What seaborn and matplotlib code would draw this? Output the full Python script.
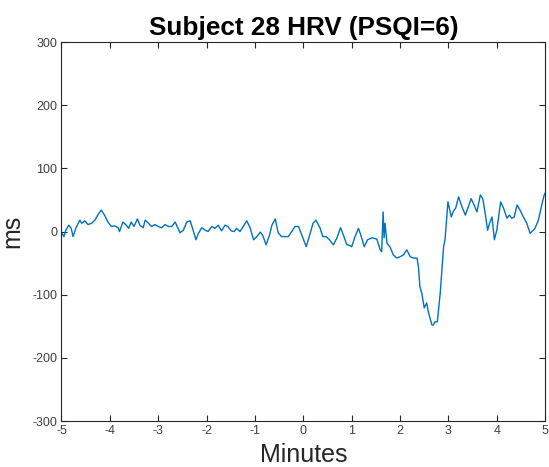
import pandas as pd
import matplotlib
matplotlib.use("Agg")
import matplotlib.pyplot as plt
import seaborn as sns

# HRV trace (minutes, ms)
minutes = [
    -5.00, -4.95, -4.91, -4.85, -4.80, -4.76, -4.70, -4.62, -4.58, -4.52,
    -4.45, -4.38, -4.31, -4.25, -4.18, -4.11, -4.04, -3.97, -3.90, -3.83,
    -3.80, -3.73, -3.66, -3.61, -3.56, -3.50, -3.43, -3.38, -3.31, -3.27,
    -3.20, -3.14, -3.07, -3.00, -2.93, -2.86, -2.79, -2.72, -2.65, -2.62,
    -2.55, -2.48, -2.41, -2.34, -2.29, -2.22, -2.17, -2.10, -2.03, -1.97,
    -1.89, -1.83, -1.76, -1.69, -1.62, -1.56, -1.49, -1.43, -1.38, -1.31,
    -1.24, -1.17, -1.10, -1.03, -0.96, -0.89, -0.84, -0.77, -0.70, -0.65,
    -0.58, -0.52, -0.45, -0.38, -0.31, -0.24, -0.17, -0.10, -0.03, 0.06,
    0.13, 0.20, 0.26, 0.35, 0.40, 0.47, 0.54, 0.62, 0.69, 0.77,
    0.83, 0.90, 0.93, 1.00, 1.07, 1.14, 1.19, 1.26, 1.33, 1.42,
    1.52, 1.59, 1.62, 1.65, 1.67, 1.69, 1.73, 1.79, 1.86, 1.93,
    2.00, 2.07, 2.14, 2.21, 2.28, 2.35, 2.38, 2.41, 2.45, 2.50,
    2.55, 2.59, 2.66, 2.69, 2.72, 2.77, 2.83, 2.90, 2.93, 2.99,
    3.06, 3.10, 3.15, 3.21, 3.28, 3.35, 3.41, 3.47, 3.53, 3.59,
    3.66, 3.71, 3.76, 3.81, 3.85, 3.90, 3.95, 4.00, 4.08, 4.14,
    4.21, 4.26, 4.31, 4.36, 4.42, 4.48, 4.55, 4.62, 4.69, 4.75,
    4.79, 4.86, 4.93, 4.98, 5.00,
]
hrv_ms = [
    -2, -8, 2, 10, 5, -8, 6, 18, 13, 17,
    11, 13, 18, 26, 34, 26, 15, 8, 9, 6,
    0, 15, 10, 5, 15, 8, 20, 10, 6, 18,
    13, 8, 11, 8, 6, 11, 8, 8, 15, 10,
    -2, 2, 15, 17, 5, -13, -3, 6, 2, 0,
    8, 5, 10, 1, 10, 8, 1, 0, 5, 0,
    8, 17, 6, -13, -8, -1, -6, -21, -6, 10,
    20, -2, -8, -8, -8, 0, 8, 8, -6, -24,
    -6, 13, 18, 5, -8, -8, -13, -21, -11, 6,
    -6, -21, -21, -24, -8, 5, -6, -24, -13, -10,
    -12, -29, -32, 31, -10, 13, -19, -24, -37, -42,
    -40, -37, -29, -40, -42, -42, -56, -87, -98, -121,
    -113, -129, -148, -148, -143, -143, -98, -24, -13, 47,
    23, 32, 37, 55, 39, 26, 39, 52, 42, 31,
    58, 52, 29, 2, 13, 23, -13, 2, 47, 37,
    21, 26, 21, 23, 42, 34, 23, 13, -3, 2,
    5, 18, 42, 58, 61,
]

x_ticks = [-5, -4, -3, -2, -1, 0, 1, 2, 3, 4, 5]
y_ticks = [-300, -200, -100, 0, 100, 200, 300]

df = pd.DataFrame({"Minutes": minutes, "ms": hrv_ms})

sns.set_style("white")
plt.rcParams["font.family"] = ["Liberation Sans", "DejaVu Sans"]
plt.rcParams["axes.unicode_minus"] = False

fig = plt.figure(figsize=(5.49, 4.67), dpi=100)
ax = fig.add_axes([0.112, 0.0985, 0.881, 0.8115])

sns.lineplot(data=df, x="Minutes", y="ms", ax=ax, color="#0072BD",
             linewidth=1.0, estimator=None, sort=False)

ax.set_xlim(-5, 5)
ax.set_ylim(-300, 300)
ax.set_xticks(x_ticks)
ax.set_yticks(y_ticks)

edge = "#262626"
for side in ax.spines.values():
    side.set_visible(True)
    side.set_color(edge)
    side.set_linewidth(0.8)

ax.tick_params(direction="in", length=4, width=0.8, color=edge,
               labelsize=9, labelcolor="#404040",
               top=True, right=True, bottom=True, left=True, pad=3)

ax.set_title("Subject 28 HRV (PSQI=6)", fontsize=18.8, fontweight="bold",
             color="black", pad=5)
ax.set_xlabel("Minutes", fontsize=18, color="#262626", labelpad=4)
ax.set_ylabel("ms", fontsize=18, color="#262626", labelpad=6)

fig.savefig("out.png", dpi=100, facecolor="white")
